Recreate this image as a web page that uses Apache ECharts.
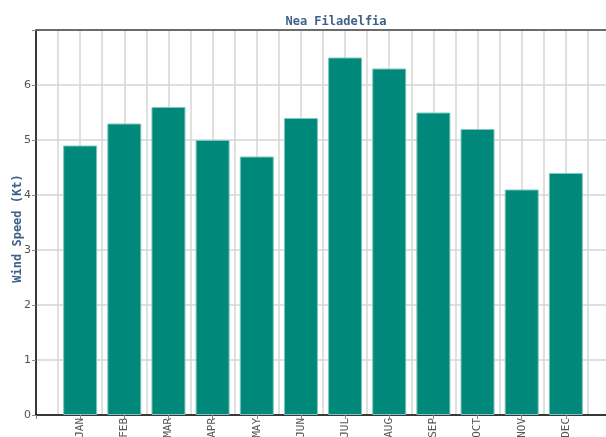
<!DOCTYPE html>
<html>
<head>
<meta charset="utf-8">
<script src="https://cdn.jsdelivr.net/npm/echarts@6/dist/echarts.min.js"></script>
<style>
	html, body { margin: 0; padding: 0; background: #fff; }
	#root { width: 606px; height: 437px; }
</style>
</head>
<body>
<div id="root"></div>
<script>
var months = ['JAN', 'FEB', 'MAR', 'APR', 'MAY', 'JUN', 'JUL', 'AUG', 'SEP', 'OCT', 'NOV', 'DEC'];
var windSpeed = [4.9, 5.3, 5.6, 5.0, 4.7, 5.4, 6.5, 6.3, 5.5, 5.2, 4.1, 4.4];
var yTicks = [0, 1, 2, 3, 4, 5, 6];

var chart = echarts.init(document.getElementById('root'));

var barData = windSpeed.map(function (v, i) { return [i + 1, v]; });

var option = {
	animation: false,
	title: {
		text: 'Nea Filadelfia',
		left: 331,
		top: 11,
		textAlign: 'center',
		textStyle: { fontFamily: 'DejaVu Sans Mono', fontSize: 12, fontWeight: 'bold', color: '#3e6089' }
	},
	grid: { left: 36, top: 30, right: -4, bottom: 22, containLabel: false, outerBoundsMode: 'none' },
	xAxis: [
		{
			// month labels and ticks
			type: 'value', min: 0, max: 13, interval: 1,
			axisLine: { show: true, lineStyle: { color: '#000', width: 1.5 } },
			axisTick: { show: true, length: 4, lineStyle: { color: '#888' } },
			axisLabel: {
				rotate: 90, fontFamily: 'DejaVu Sans Mono', fontSize: 11, color: '#555', margin: 3,
				formatter: function (v) { return months[v - 1] || ''; }
			},
			splitLine: { show: false }
		},
		{
			// half-step vertical grid
			type: 'value', min: 0, max: 13, interval: 0.5, position: 'bottom',
			axisLine: { show: false }, axisTick: { show: false }, axisLabel: { show: false },
			splitLine: { show: true, lineStyle: { color: '#d6d6d6', width: 1.5 } }
		}
	],
	yAxis: [
		{
			type: 'value', min: 0, max: 7, interval: 1,
			name: 'Wind Speed (Kt)', nameLocation: 'middle', nameGap: 12, nameMoveOverlap: false,
			nameTextStyle: { fontFamily: 'DejaVu Sans Mono', fontSize: 12, fontWeight: 'bold', color: '#3e6089', padding: [0, 0, 0, -12] },
			axisLine: { show: true, lineStyle: { color: '#000', width: 1.5 } },
			axisTick: { show: true, length: 4, lineStyle: { color: '#888' } },
			axisLabel: {
				fontFamily: 'DejaVu Sans', fontSize: 11, color: '#555', margin: 5,
				formatter: function (v) { return yTicks.indexOf(v) >= 0 ? String(v) : ''; }
			},
			splitLine: { show: true, lineStyle: { color: '#d6d6d6', width: 1.5 } }
		}
	],
	graphic: [{
		type: 'line',
		shape: { x1: 36, y1: 30, x2: 606, y2: 30 },
		style: { stroke: '#444', lineWidth: 1.5 },
		z: 10
	}],
	series: [{
		type: 'bar',
		xAxisIndex: 0,
		yAxisIndex: 0,
		data: barData,
		barWidth: 34,
		itemStyle: { color: '#00897b', borderColor: '#7fc6bd', borderWidth: 1 },
		z: 5
	}]
};

chart.setOption(option);
</script>
</body>
</html>
